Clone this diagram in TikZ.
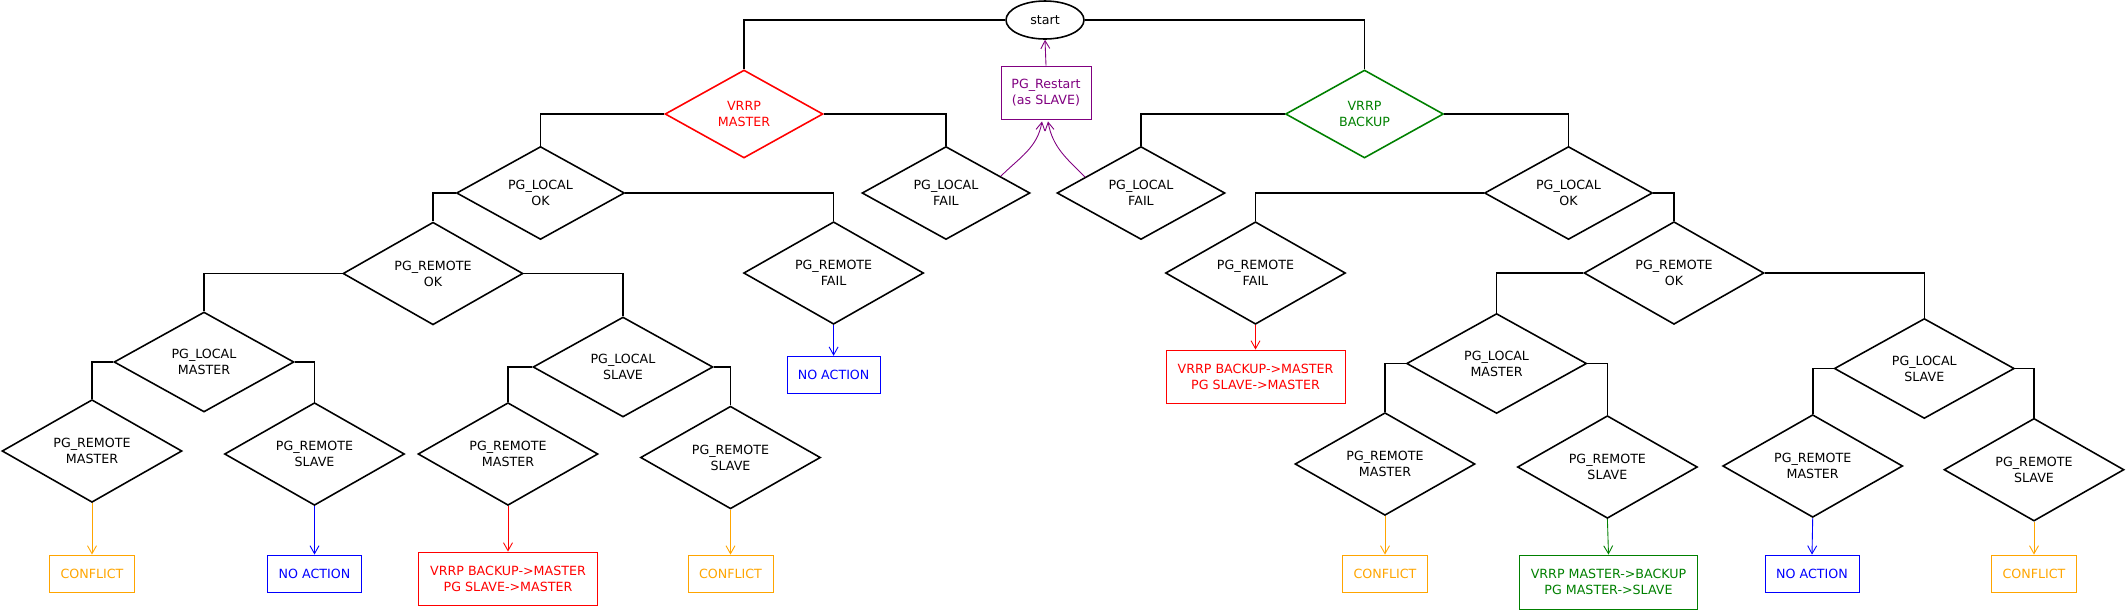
\documentclass[tikz,border=0pt]{standalone}
\usepackage{fontspec}
\setmainfont{DejaVu Sans}
\usepackage{tikz}
\usetikzlibrary{shapes.geometric}
\usetikzlibrary{arrows.meta}
\definecolor{vgreen}{RGB}{0,128,0}
\definecolor{vpurple}{RGB}{128,0,128}
\definecolor{vorange}{RGB}{255,165,0}

\tikzset{
  test/.style={diamond, draw, line width=0.9pt, inner sep=0pt, align=center,
    minimum width=3.6cm, minimum height=2cm},
  ltest/.style={test, minimum width=3.36cm, minimum height=1.86cm},
  vtest/.style={test, minimum width=3.16cm, minimum height=1.76cm},
  result/.style={draw, line width=0.5pt, inner sep=0pt, align=center, minimum height=0.74cm},
  branch/.style={line width=0.9pt},
  leads/.style={line width=0.5pt, -{Straight Barb[length=1.6mm,width=1.8mm]}}
}

\begin{document}
\begin{tikzpicture}[x=0.02cm, y=-0.02cm, font=\fontsize{7.2}{9.1}\selectfont]
    \useasboundingbox (0,0) rectangle (2127,610);
    \node[ellipse, draw, line width=0.9pt, inner sep=0pt, minimum width=1.56cm, minimum height=0.76cm] (start) at (1045,20) {start};
    \node[result, vpurple, minimum width=1.8cm, minimum height=1.06cm] (rst) at (1046,92.5) {PG\_Restart\\(as SLAVE)};
    \node[vtest, red] (vm) at (744,114) {VRRP\\MASTER};
    \node[vtest, vgreen] (vb) at (1364.5,114) {VRRP\\BACKUP};
    \node[ltest] (mlok) at (540.5,193) {PG\_LOCAL\\OK};
    \node[ltest] (mlfail) at (946,193) {PG\_LOCAL\\FAIL};
    \node[ltest] (blfail) at (1141,193) {PG\_LOCAL\\FAIL};
    \node[ltest] (blok) at (1568.5,193) {PG\_LOCAL\\OK};
    \node[test] (mrok) at (433,273.5) {PG\_REMOTE\\OK};
    \node[test] (mrfail) at (833.6,273) {PG\_REMOTE\\FAIL};
    \node[test] (brfail) at (1255.5,273) {PG\_REMOTE\\FAIL};
    \node[test] (brok) at (1674,273) {PG\_REMOTE\\OK};
    \node[test] (mlm) at (204,362) {PG\_LOCAL\\MASTER};
    \node[test] (mls) at (623,367) {PG\_LOCAL\\SLAVE};
    \node[test] (blm) at (1496.6,363.5) {PG\_LOCAL\\MASTER};
    \node[test] (bls) at (1924.3,368.5) {PG\_LOCAL\\SLAVE};
    \node[test] (m1) at (92,451) {PG\_REMOTE\\MASTER};
    \node[test] (s1) at (314.5,454) {PG\_REMOTE\\SLAVE};
    \node[test] (m2) at (508,454) {PG\_REMOTE\\MASTER};
    \node[test] (s2) at (730.5,457.5) {PG\_REMOTE\\SLAVE};
    \node[test] (m3) at (1385,464) {PG\_REMOTE\\MASTER};
    \node[test] (s3) at (1607.4,467) {PG\_REMOTE\\SLAVE};
    \node[test] (m4) at (1812.7,466) {PG\_REMOTE\\MASTER};
    \node[test] (s4) at (2034,469.7) {PG\_REMOTE\\SLAVE};

    \node[result, blue, minimum width=1.86cm] (na0) at (833.6,374.7) {NO ACTION};
    \node[result, red, minimum width=3.58cm, minimum height=1.06cm] (bm0) at (1255.5,376.5) {VRRP BACKUP->MASTER\\PG SLAVE->MASTER};
    \node[result, vorange, minimum width=1.7cm] (c1) at (92,573.5) {CONFLICT};
    \node[result, blue, minimum width=1.88cm] (na1) at (314.5,573.5) {NO ACTION};
    \node[result, red, minimum width=3.58cm, minimum height=1.06cm] (bm1) at (508,578.5) {VRRP BACKUP->MASTER\\PG SLAVE->MASTER};
    \node[result, vorange, minimum width=1.7cm] (c2) at (730.5,573.5) {CONFLICT};
    \node[result, vorange, minimum width=1.7cm] (c3) at (1385,573.5) {CONFLICT};
    \node[result, vgreen, minimum width=3.56cm, minimum height=1.08cm] (mb) at (1608.5,582) {VRRP MASTER->BACKUP\\PG MASTER->SLAVE};
    \node[result, blue, minimum width=1.88cm] (na2) at (1812,573.5) {NO ACTION};
    \node[result, vorange, minimum width=1.7cm] (c4) at (2034,573.5) {CONFLICT};

    \draw[branch] (start.west) -| (vm.north);
    \draw[branch] (start.east) -| (vb.north);
    \draw[branch] (vm.west) -| (mlok.north);
    \draw[branch] (vm.east) -| (mlfail.north);
    \draw[branch] (vb.west) -| (blfail.north);
    \draw[branch] (vb.east) -| (blok.north);
    \draw[branch] (mlok.west) -| (mrok.north);
    \draw[branch] (mlok.east) -| (mrfail.north);
    \draw[branch] (blok.west) -| (brfail.north);
    \draw[branch] (blok.east) -| (brok.north);
    \draw[branch] (mrok.west) -| (mlm.north);
    \draw[branch] (mrok.east) -| (mls.north);
    \draw[branch] (brok.west) -| (blm.north);
    \draw[branch] (brok.east) -| (bls.north);
    \draw[branch] (mlm.west) -| (m1.north);
    \draw[branch] (mlm.east) -| (s1.north);
    \draw[branch] (mls.west) -| (m2.north);
    \draw[branch] (mls.east) -| (s2.north);
    \draw[branch] (blm.west) -| (m3.north);
    \draw[branch] (blm.east) -| (s3.north);
    \draw[branch] (bls.west) -| (m4.north);
    \draw[branch] (bls.east) -| (s4.north);

    \draw[leads, vpurple] (rst.north) -- (start.south);
    \draw[leads, vpurple] (mlfail.17) to[out=45,in=-100] ([xshift=-0.08cm,yshift=-0.04cm]rst.south);
    \draw[leads, vpurple] (blfail.164) to[out=135,in=-80] ([xshift=0.04cm,yshift=-0.04cm]rst.south);
    \draw[leads, blue] (mrfail.south) -- (na0.north);
    \draw[leads, red] (brfail.south) -- (bm0.north);
    \draw[leads, vorange] (m1.south) -- (c1.north);
    \draw[leads, blue] (s1.south) -- (na1.north);
    \draw[leads, red] (m2.south) -- (bm1.north);
    \draw[leads, vorange] (s2.south) -- (c2.north);
    \draw[leads, vorange] (m3.south) -- (c3.north);
    \draw[leads, vgreen] (s3.south) -- (mb.north);
    \draw[leads, blue] (m4.south) -- (na2.north);
    \draw[leads, vorange] (s4.south) -- (c4.north);
\end{tikzpicture}
\end{document}
